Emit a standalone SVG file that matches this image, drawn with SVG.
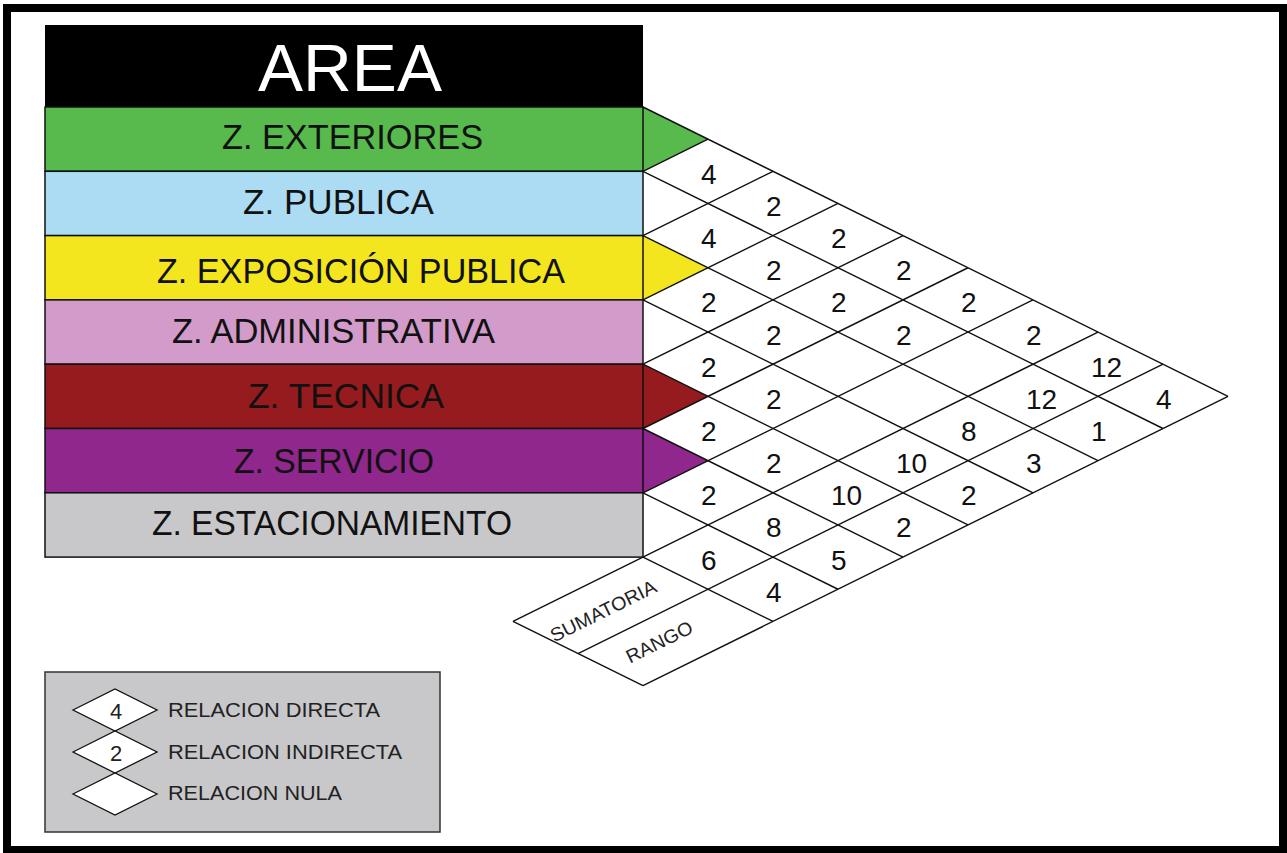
<svg xmlns="http://www.w3.org/2000/svg" width="1287" height="853" viewBox="0 0 1287 853">
<style>
.lbl{font-family:"Liberation Sans",Arial,sans-serif;font-size:34.5px;fill:#111}
.num{font-family:"Liberation Sans",Arial,sans-serif;font-size:28px;fill:#111}
.leg{font-family:"Liberation Sans",Arial,sans-serif;font-size:21px;fill:#222}
.small{font-family:"Liberation Sans",Arial,sans-serif;font-size:19px;fill:#222}
.row{stroke:#111;stroke-width:1.5}
.grid line{stroke:#111;stroke-width:1.4}
.dia{fill:#fff;stroke:#111;stroke-width:1.3}
</style>
<rect x="0" y="0" width="1287" height="853" fill="#fff"/>
<rect x="7" y="8" width="1276" height="842" fill="#fff" stroke="#000" stroke-width="8"/>

<g id="area-header">
<rect x="45" y="25" width="598" height="82" fill="#000"/>
<text x="258" y="91" textLength="184" lengthAdjust="spacingAndGlyphs" style="font-family:'Liberation Sans',Arial,sans-serif;font-size:66px;fill:#fff">AREA</text>
</g>

<g id="triangles">
<polygon points="643,107 708,139.15 643,171.3" fill="#58b94c"/>
<polygon points="643,235.6 708,267.75 643,299.9" fill="#f3e61f"/>
<polygon points="643,364.2 708,396.35 643,428.5" fill="#961b1e"/>
<polygon points="643,428.5 708,460.65 643,492.8" fill="#8f278d"/>
</g>

<g id="z-exteriores"><rect class="row" x="45" y="107" width="598" height="64.3" fill="#58b94c"/><text class="lbl" x="222" y="149" textLength="261" lengthAdjust="spacingAndGlyphs">Z. EXTERIORES</text></g>
<g id="z-publica"><rect class="row" x="45" y="171.3" width="598" height="64.3" fill="#abdcf4"/><text class="lbl" x="243" y="214" textLength="191" lengthAdjust="spacingAndGlyphs">Z. PUBLICA</text></g>
<g id="z-exposicion-publica"><rect class="row" x="45" y="235.6" width="598" height="64.3" fill="#f3e61f"/><text class="lbl" x="157" y="283" textLength="408" lengthAdjust="spacingAndGlyphs">Z. EXPOSICIÓN PUBLICA</text></g>
<g id="z-administrativa"><rect class="row" x="45" y="299.9" width="598" height="64.3" fill="#d29bc9"/><text class="lbl" x="172" y="343" textLength="323" lengthAdjust="spacingAndGlyphs">Z. ADMINISTRATIVA</text></g>
<g id="z-tecnica"><rect class="row" x="45" y="364.2" width="598" height="64.3" fill="#961b1e"/><text class="lbl" x="248" y="408" textLength="196" lengthAdjust="spacingAndGlyphs">Z.  TECNICA</text></g>
<g id="z-servicio"><rect class="row" x="45" y="428.5" width="598" height="64.3" fill="#8f278d"/><text class="lbl" x="234" y="473" textLength="200" lengthAdjust="spacingAndGlyphs">Z. SERVICIO</text></g>
<g id="z-estacionamiento"><rect class="row" x="45" y="492.8" width="598" height="64.3" fill="#c8c8ca"/><text class="lbl" x="152" y="535" textLength="360" lengthAdjust="spacingAndGlyphs">Z. ESTACIONAMIENTO</text></g>

<g id="connectors" class="grid">
<line x1="643" y1="107" x2="1228" y2="396.35"/>
<line x1="643" y1="171.3" x2="1163" y2="428.5"/>
<line x1="643" y1="235.6" x2="1098" y2="460.65"/>
<line x1="643" y1="299.9" x2="1033" y2="492.8"/>
<line x1="643" y1="364.2" x2="968" y2="524.95"/>
<line x1="643" y1="428.5" x2="903" y2="557.1"/>
<line x1="643" y1="492.8" x2="838" y2="589.25"/>
<line x1="643" y1="557.1" x2="773" y2="621.4"/>
<line x1="513" y1="621.4" x2="643" y2="685.7"/>
<line x1="643" y1="171.3" x2="708" y2="139.15"/>
<line x1="643" y1="235.6" x2="773" y2="171.3"/>
<line x1="643" y1="299.9" x2="838" y2="203.45"/>
<line x1="643" y1="364.2" x2="903" y2="235.6"/>
<line x1="643" y1="428.5" x2="968" y2="267.75"/>
<line x1="643" y1="492.8" x2="1033" y2="299.9"/>
<line x1="513" y1="621.4" x2="1098" y2="332.05"/>
<line x1="578" y1="653.55" x2="1163" y2="364.2"/>
<line x1="643" y1="685.7" x2="1228" y2="396.35"/>
</g>

<g id="values" class="num">
<text x="701" y="184">4</text>
<text x="701" y="248">4</text>
<text x="701" y="312">2</text>
<text x="701" y="377">2</text>
<text x="701" y="441">2</text>
<text x="701" y="505">2</text>
<text x="766" y="216">2</text>
<text x="766" y="280">2</text>
<text x="766" y="345">2</text>
<text x="766" y="409">2</text>
<text x="766" y="473">2</text>
<text x="831" y="248">2</text>
<text x="831" y="312">2</text>
<text x="896" y="280">2</text>
<text x="896" y="345">2</text>
<text x="961" y="312">2</text>
<text x="1026" y="345">2</text>
</g>

<g id="sumatoria" class="num">
<text x="701" y="570">6</text>
<text x="766" y="537">8</text>
<text x="831" y="505">10</text>
<text x="896" y="473">10</text>
<text x="961" y="441">8</text>
<text x="1026" y="409">12</text>
<text x="1091" y="377">12</text>
</g>

<g id="rango" class="num">
<text x="766" y="602">4</text>
<text x="831" y="570">5</text>
<text x="896" y="537">2</text>
<text x="961" y="505">2</text>
<text x="1026" y="473">3</text>
<text x="1091" y="441">1</text>
<text x="1156" y="409">4</text>
</g>

<g id="labels">
<text class="small" transform="translate(603.5,611.5) rotate(-26.3)" y="6" text-anchor="middle" textLength="116" lengthAdjust="spacingAndGlyphs">SUMATORIA</text>
<text class="small" transform="translate(659.5,642.5) rotate(-26.3)" y="6" text-anchor="middle" textLength="72" lengthAdjust="spacingAndGlyphs">RANGO</text>
</g>

<g id="legend">
<rect x="45" y="672" width="395" height="160" fill="#c8c8ca" stroke="#333" stroke-width="1.5"/>
<polygon class="dia" points="73,710 115,689 157,710 115,731"/>
<polygon class="dia" points="73,752 115,731 157,752 115,773"/>
<polygon class="dia" points="73,794 115,773 157,794 115,815"/>
<text class="leg" x="110" y="719" style="font-size:22px">4</text>
<text class="leg" x="110" y="761" style="font-size:22px">2</text>
<text class="leg" x="168" y="717" textLength="212" lengthAdjust="spacingAndGlyphs">RELACION DIRECTA</text>
<text class="leg" x="168" y="759" textLength="234" lengthAdjust="spacingAndGlyphs">RELACION INDIRECTA</text>
<text class="leg" x="168" y="800" textLength="174" lengthAdjust="spacingAndGlyphs">RELACION NULA</text>
</g>
</svg>
